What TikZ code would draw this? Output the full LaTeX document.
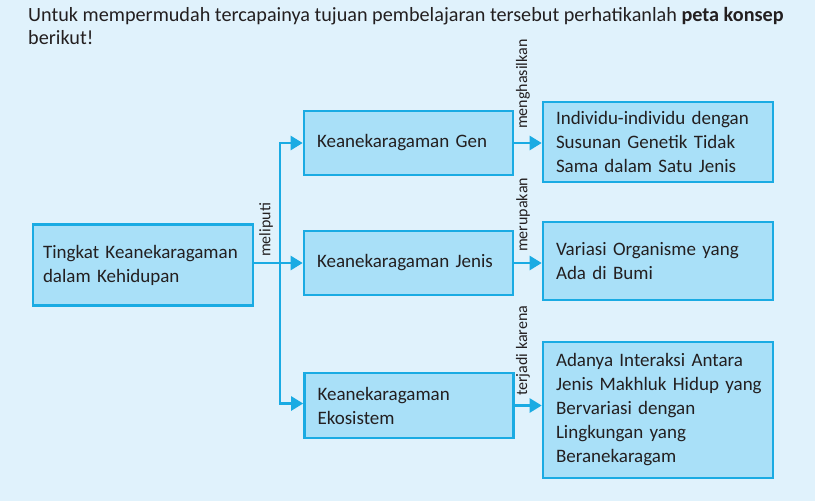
\documentclass[tikz,border=0pt]{standalone}
\usepackage{fontspec}
\setmainfont{Carlito}
\usetikzlibrary{arrows.meta}
\definecolor{latar}{HTML}{E0F2FC}
\definecolor{isikotak}{HTML}{A9E0F8}
\definecolor{garisbiru}{HTML}{1AABE3}
\definecolor{tinta}{HTML}{231F20}
\tikzstyle{every node}=[font=\fontsize{19}{24}\selectfont,text=tinta]
\tikzstyle{every path}=[line width=2.4pt,line join=miter]
\tikzstyle{konsep}=[draw=garisbiru,line width=2.6pt,fill=isikotak,align=left,inner ysep=0pt]
\tikzstyle{panah}=[draw=garisbiru,-{Triangle[length=12pt,width=14pt]}]
\tikzstyle{ket}=[rotate=90,anchor=west,inner sep=0pt,font=\fontsize{16}{18}\selectfont]

\begin{document}
\begin{tikzpicture}[x=1pt,y=-1pt]
    % background
    \fill[latar] (0,0) rectangle (815,501);
    \useasboundingbox (0,0) rectangle (815,501);

    % heading
    \node[anchor=north west,inner sep=0pt,align=left,
        font=\fontsize{20.2}{23}\selectfont] (judul) at (27,6)
        {Untuk mempermudah tercapainya tujuan pembelajaran tersebut perhatikanlah \textbf{peta konsep}\\berikut!};

    % left box
    \node[konsep,text width=200pt,inner xsep=10pt,minimum height=81pt]
        (tingkat) at (143,265) {Tingkat Keanekaragaman\\dalam Kehidupan};

    % middle boxes
    \node[konsep,text width=183pt,inner xsep=13pt,minimum height=64pt]
        (gen) at (408.5,143) {Keanekaragaman Gen};
    \node[konsep,text width=183pt,inner xsep=13pt,minimum height=64pt]
        (jenis) at (408.5,263) {Keanekaragaman Jenis};
    \node[konsep,text width=183pt,inner xsep=13pt,minimum height=65pt]
        (ekosistem) at (409,405.5) {Keanekaragaman\\Ekosistem};

    % right boxes
    \node[konsep,text width=204pt,inner xsep=13pt,minimum height=80pt]
        (hasilgen) at (658,142) {Individu-individu dengan\\Susunan Genetik Tidak\\Sama dalam Satu Jenis};
    \node[konsep,text width=204pt,inner xsep=13pt,minimum height=78pt]
        (hasiljenis) at (658,261) {Variasi Organisme yang\\Ada di Bumi};
    \node[konsep,text width=204pt,inner xsep=13pt,minimum height=136pt]
        (hasileko) at (658,410) {Adanya Interaksi Antara\\Jenis~Makhluk~Hidup~yang\\Bervariasi dengan\\Lingkungan yang\\Beranekaragam};

    % connectors
    \coordinate (cabang) at (280,263);
    \draw[panah] (tingkat.east |- jenis.west) -- (jenis.west);
    \draw[panah] (cabang) |- (gen.west);
    \draw[panah] (cabang) |- ([yshift=2pt]ekosistem.west);
    \draw[panah] (gen.east) -- (gen.east -| hasilgen.west);
    \draw[panah] (jenis.east) -- (jenis.east -| hasiljenis.west);
    \draw[panah] (ekosistem.east) -- (ekosistem.east -| hasileko.west);

    % labels
    \node[ket] (lmeliputi) at (266,258) {meliputi};
    \node[ket] (lmenghasilkan) at (523,130) {menghasilkan};
    \node[ket] (lmerupakan) at (523,253) {merupakan};
    \node[ket] (lterjadi) at (523,397) {terjadi karena};
\end{tikzpicture}
\end{document}
